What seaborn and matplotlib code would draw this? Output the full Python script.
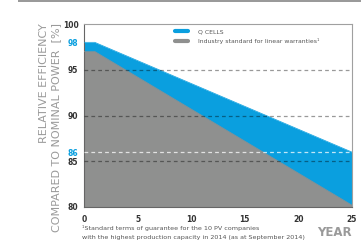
import matplotlib
matplotlib.use("Agg")
import matplotlib.pyplot as plt
from matplotlib.lines import Line2D
from matplotlib.patches import Rectangle
import pandas as pd
import seaborn as sns

# warranty curves
years = [0, 1, 25]
qcells = [98, 98, 86]
industry = [97, 97, 80.2]
y_ticks = [80, 85, 86, 90, 95, 98, 100]
x_ticks = [0, 5, 10, 15, 20, 25]
series_names = ["Q CELLS", "Industry standard for linear warranties\u00b9"]

BLUE = "#0a9fdf"
GREY = "#8f908f"
DARK = "#333333"
LIGHT = "#9a9a9a"

df = pd.DataFrame({"year": years, "qcells": qcells, "industry": industry})

sns.set_theme(style="white")
plt.rcParams["font.family"] = ["DejaVu Sans"]

fig = plt.figure(figsize=(3.61, 2.44), dpi=100)
ax = fig.add_axes([84 / 361, 1 - 207 / 244, (352 - 84) / 361, (207 - 24) / 244])

# blue area first, grey one on top of it
ax.fill_between(df["year"], 80, df["qcells"], color=BLUE, lw=0, zorder=1)
ax.fill_between(df["year"], 80, df["industry"], color=GREY, lw=0, zorder=2)
sns.lineplot(data=df, x="year", y="qcells", color=BLUE, lw=0.5, ax=ax, zorder=3)
sns.lineplot(data=df, x="year", y="industry", color=GREY, lw=0.5, ax=ax, zorder=3)

# dashed reference lines
for v in [85, 90, 95]:
    ax.axhline(v, color="black", alpha=0.4, lw=0.9, ls=(0, (3, 2.5)), zorder=4)
ax.axhline(86, color="white", alpha=0.75, lw=0.9, ls=(0, (3, 2.5)), zorder=4)

ax.set_xlim(0, 25)
ax.set_ylim(80, 100)
ax.set_xticks(x_ticks)
ax.set_yticks(y_ticks)
ax.set_xticklabels([str(t) for t in x_ticks], fontsize=5.5, fontweight="bold", color=DARK)
ax.set_yticklabels([str(t) for t in y_ticks], fontsize=5.5, fontweight="bold", color=DARK)
for lab, t in zip(ax.get_yticklabels(), y_ticks):
    if t in (86, 98):
        lab.set_color(BLUE)
ax.tick_params(axis="y", length=0, pad=4)
ax.tick_params(axis="x", length=3, width=0.6, color="#555555", direction="out", pad=3)
ax.set_xlabel("")
ax.set_ylabel("")

for side in ["top", "right"]:
    ax.spines[side].set_color("#a0a0a0")
    ax.spines[side].set_linewidth(0.8)
for side in ["left", "bottom"]:
    ax.spines[side].set_color("#666666")
    ax.spines[side].set_linewidth(0.8)

# legend
handles = [Line2D([], [], color=BLUE, lw=3), Line2D([], [], color=GREY, lw=3)]
leg = fig.legend(handles, series_names, loc="upper left",
                 bbox_to_anchor=(170 / 361, 1 - 24 / 244), frameon=False,
                 fontsize=4.4, handlelength=2.2, handletextpad=1.6,
                 labelspacing=0.7, borderpad=0.3)
for t in leg.get_texts():
    t.set_color("#555555")

# y label in two lines, aligned at the top
fig.text(44 / 361, 1 - 23 / 244, "RELATIVE EFFICIENCY", rotation=90,
         ha="center", va="top", fontsize=8, color=LIGHT)
fig.text(56 / 361, 1 - 23 / 244, "COMPARED TO NOMINAL POWER  [%]", rotation=90,
         ha="center", va="top", fontsize=8, color=LIGHT)

fig.text(352 / 361, 1 - 232 / 244, "YEAR", ha="right", va="center",
         fontsize=8.5, fontweight="bold", color=LIGHT)
fig.text(82 / 361, 1 - 225 / 244,
         "\u00b9Standard terms of guarantee for the 10 PV companies\n"
         "with the highest production capacity in 2014 (as at September 2014)",
         ha="left", va="top", fontsize=4.6, color="#555555", linespacing=2.0)

fig.add_artist(Rectangle((18 / 361, 1 - 2 / 244), 1, 2 / 244,
                         transform=fig.transFigure, color="#9a9a9a", lw=0))

fig.savefig("out.png", dpi=100)
